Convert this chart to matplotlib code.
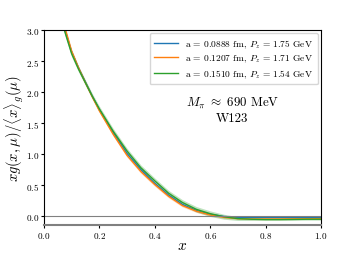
import matplotlib
matplotlib.use("Agg")
import matplotlib.pyplot as plt
import numpy as np

plt.rcParams['font.family'] = ['cmr10', 'DejaVu Serif']
plt.rcParams['mathtext.fontset'] = 'cm'
plt.rcParams['axes.formatter.use_mathtext'] = True

x = [0.05, 0.075, 0.10, 0.125, 0.15, 0.175, 0.20, 0.25, 0.30, 0.35, 0.40, 0.45, 0.50,
     0.55, 0.60, 0.65, 0.70, 0.75, 0.80, 0.85, 0.90, 0.95, 1.00]

blue = [3.70, 3.02, 2.65, 2.39, 2.16, 1.93, 1.72, 1.35, 1.01, 0.75, 0.53, 0.34, 0.19,
        0.09, 0.03, -0.005, -0.02, -0.02, -0.02, -0.02, -0.02, -0.02, -0.02]
blue_err = [0.03, 0.02, 0.02, 0.02, 0.015, 0.015, 0.015, 0.012, 0.01, 0.01, 0.01, 0.01, 0.01,
            0.01, 0.01, 0.01, 0.01, 0.01, 0.01, 0.01, 0.01, 0.01, 0.01]

orange = [3.75, 3.05, 2.66, 2.39, 2.15, 1.92, 1.70, 1.32, 0.98, 0.72, 0.51, 0.32, 0.17,
          0.08, 0.02, -0.02, -0.04, -0.045, -0.045, -0.045, -0.043, -0.042, -0.04]
orange_err = [0.05, 0.04, 0.035, 0.03, 0.03, 0.03, 0.03, 0.03, 0.03, 0.03, 0.028, 0.025, 0.022,
              0.02, 0.018, 0.015, 0.012, 0.012, 0.012, 0.012, 0.012, 0.012, 0.012]

green = [3.65, 2.98, 2.62, 2.37, 2.15, 1.93, 1.73, 1.37, 1.05, 0.78, 0.57, 0.37, 0.22,
         0.11, 0.04, -0.01, -0.04, -0.05, -0.055, -0.055, -0.053, -0.05, -0.05]
green_err = [0.06, 0.05, 0.05, 0.045, 0.045, 0.045, 0.045, 0.045, 0.045, 0.045, 0.045, 0.045, 0.045,
             0.045, 0.045, 0.04, 0.03, 0.02, 0.015, 0.015, 0.015, 0.015, 0.015]

labels = [r"a = 0.0888 fm, $P_z$ = 1.75 GeV",
          r"a = 0.1207 fm, $P_z$ = 1.71 GeV",
          r"a = 0.1510 fm, $P_z$ = 1.54 GeV"]
colors = ['#1f77b4', '#ff7f0e', '#2ca02c']

fig = plt.figure(figsize=(3.57, 2.55), dpi=100)
ax = fig.add_axes([0.123, 0.112, 0.776, 0.766])

xa = np.array(x)
for y, e, c, lab in zip([blue, orange, green], [blue_err, orange_err, green_err], colors, labels):
    y = np.array(y); e = np.array(e)
    ax.fill_between(xa, y - e, y + e, color=c, alpha=0.3, lw=0)
    ax.plot(xa, y, color=c, lw=1.0, label=lab)

ax.axhline(0, color='gray', lw=0.8)
ax.set_xlim(0, 1)
ax.set_ylim(-0.15, 3.0)
ax.set_xticks([0.0, 0.2, 0.4, 0.6, 0.8, 1.0])
ax.set_yticks([0.0, 0.5, 1.0, 1.5, 2.0, 2.5, 3.0])
ax.tick_params(labelsize=6.6, length=2.5, width=0.8, pad=1.0)
ax.spines['bottom'].set_color('gray')
ax.spines['bottom'].set_linewidth(1.5)
ax.set_xlabel(r"$x$", fontsize=11, va='center')
ax.xaxis.set_label_coords(0.5, -0.103)
ax.set_ylabel(r"$xg(x,\mu)/\langle x\rangle_g(\mu)$", fontsize=10.5, va='center')
ax.yaxis.set_label_coords(-0.108, 0.5)
ax.legend(loc='upper right', fontsize=6.8, handlelength=2.5, borderpad=0.5, labelspacing=0.3,
          borderaxespad=0.3)
ax.text(0.68, 0.594, "$M_\\pi\\ \\approx\\ 690$ MeV\nW123", transform=ax.transAxes,
        ha='center', va='center', fontsize=9.3, linespacing=1.25)

fig.savefig("out.png", dpi=100)
